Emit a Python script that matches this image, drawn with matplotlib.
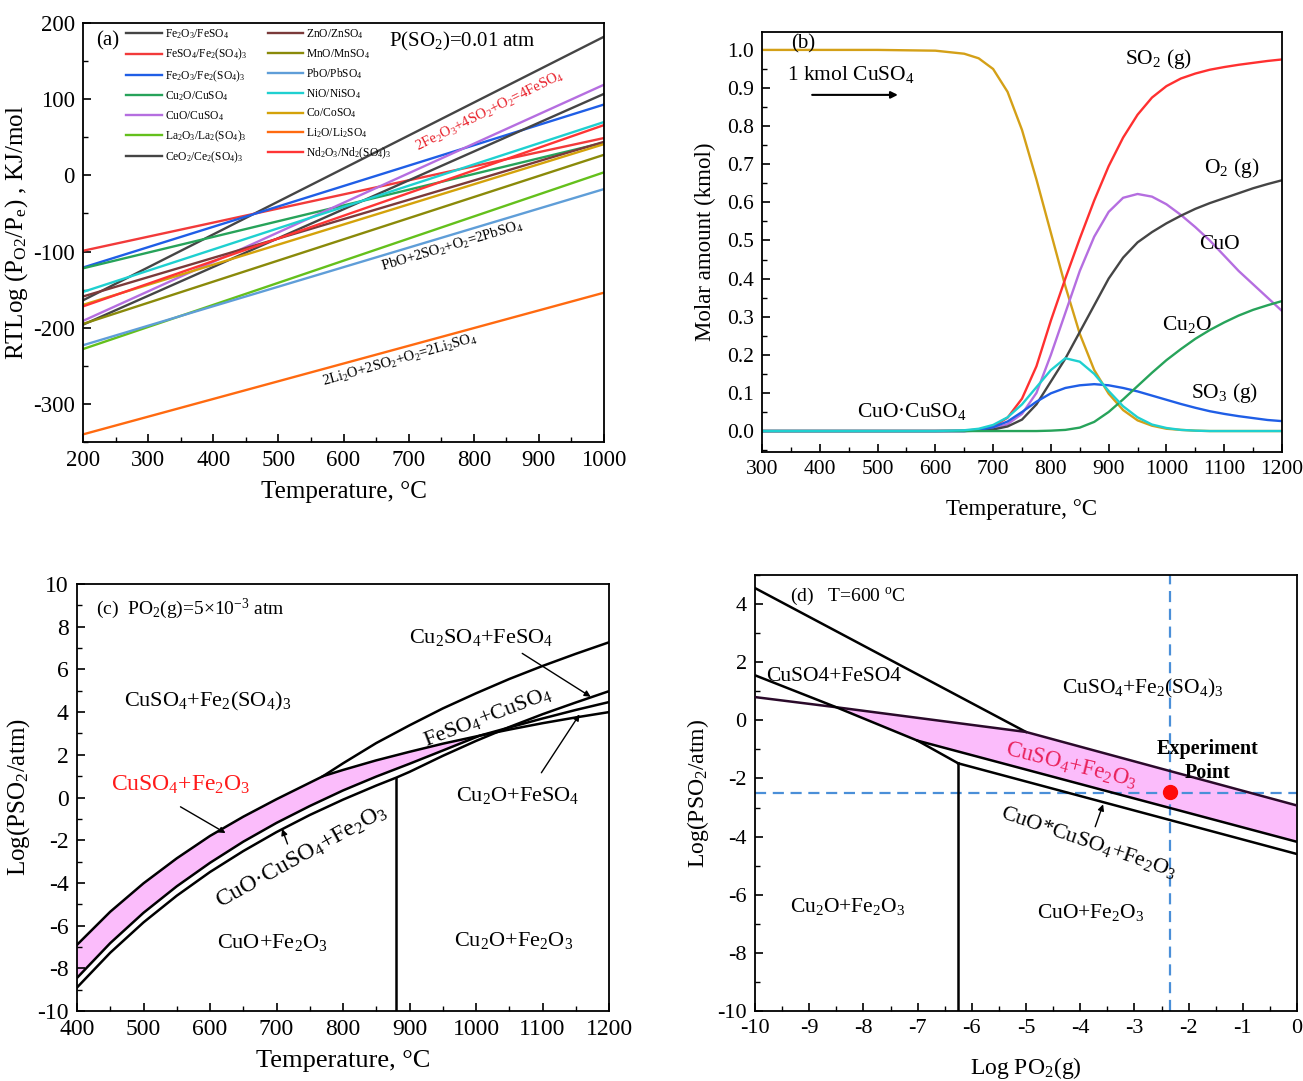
import numpy as np
import matplotlib
matplotlib.use("Agg")
import matplotlib.pyplot as plt
from matplotlib.ticker import MultipleLocator

plt.rcParams['font.family'] = ['Liberation Serif', 'DejaVu Serif']
plt.rcParams['mathtext.fontset'] = 'custom'
plt.rcParams['mathtext.rm'] = 'Liberation Serif'
plt.rcParams['mathtext.it'] = 'Liberation Serif:italic'
plt.rcParams['mathtext.bf'] = 'Liberation Serif:bold'
plt.rcParams['axes.unicode_minus'] = False

# ---------------- (a) data ----------------
a_T = [200, 1000]
a_labels = [r"Fe$_2$O$_3$/FeSO$_4$", r"FeSO$_4$/Fe$_2$(SO$_4$)$_3$", r"Fe$_2$O$_3$/Fe$_2$(SO$_4$)$_3$",
            r"Cu$_2$O/CuSO$_4$", r"CuO/CuSO$_4$", r"La$_2$O$_3$/La$_2$(SO$_4$)$_3$", r"CeO$_2$/Ce$_2$(SO$_4$)$_3$",
            r"ZnO/ZnSO$_4$", r"MnO/MnSO$_4$", r"PbO/PbSO$_4$", r"NiO/NiSO$_4$", r"Co/CoSO$_4$",
            r"Li$_2$O/Li$_2$SO$_4$", r"Nd$_2$O$_3$/Nd$_2$(SO$_4$)$_3$"]
a_start = [-164, -99, -121, -122, -191, -228, -196, -159, -195, -223, -153, -170, -340, -172]
a_end = [182, 49, 93, 43, 119, 4, 107, 44, 27, -18, 70, 41, -154, 66]
a_colors = ['#454545', '#f23a3a', '#1f5ee6', '#27a35a', '#b56ee0', '#64c01c', '#454545',
            '#7b3a3a', '#8a8a0a', '#5f9ed8', '#1fd0d0', '#d4a20a', '#ff6a10', '#ff3535']

# ---------------- (b) data ----------------
b_T = [300, 400, 500, 600, 650, 675, 700, 725, 750, 775, 800, 825, 850, 875, 900, 925, 950,
       975, 1000, 1025, 1050, 1075, 1100, 1125, 1150, 1175, 1200]
b_CuSO4 = [1.0, 1.0, 1.0, 0.998, 0.99, 0.978, 0.95, 0.89, 0.79, 0.66, 0.52, 0.38, 0.255, 0.16, 0.098,
           0.055, 0.028, 0.014, 0.006, 0.003, 0.001, 0, 0, 0, 0, 0, 0]
b_SO2 = [0, 0, 0, 0, 0.001, 0.004, 0.012, 0.035, 0.085, 0.17, 0.29, 0.40, 0.505, 0.605, 0.695, 0.77,
         0.83, 0.875, 0.905, 0.925, 0.938, 0.948, 0.955, 0.961, 0.966, 0.971, 0.975]
b_CuO = [0, 0, 0, 0, 0, 0.002, 0.006, 0.018, 0.045, 0.10, 0.20, 0.31, 0.42, 0.51, 0.575, 0.612, 0.622,
         0.615, 0.595, 0.567, 0.535, 0.50, 0.46, 0.42, 0.385, 0.35, 0.315]
b_O2 = [0, 0, 0, 0, 0, 0.001, 0.004, 0.012, 0.03, 0.07, 0.13, 0.19, 0.26, 0.33, 0.40, 0.455, 0.495,
        0.522, 0.545, 0.565, 0.583, 0.598, 0.611, 0.624, 0.637, 0.648, 0.658]
b_SO3 = [0, 0, 0, 0, 0, 0.003, 0.01, 0.025, 0.05, 0.077, 0.099, 0.113, 0.12, 0.123, 0.12, 0.113, 0.104,
         0.093, 0.082, 0.071, 0.061, 0.052, 0.045, 0.039, 0.034, 0.029, 0.026]
b_CuOCuSO4 = [0, 0, 0, 0, 0.002, 0.006, 0.016, 0.036, 0.07, 0.115, 0.16, 0.191, 0.182, 0.15, 0.105,
              0.065, 0.036, 0.017, 0.008, 0.003, 0.001, 0, 0, 0, 0, 0, 0]
b_Cu2O = [0, 0, 0, 0, 0, 0, 0, 0, 0, 0, 0.001, 0.003, 0.009, 0.024, 0.05, 0.083, 0.118, 0.153, 0.186,
          0.215, 0.242, 0.265, 0.285, 0.303, 0.318, 0.33, 0.341]

# ---------------- (c) data ----------------
cA_T = [400, 450, 500, 550, 600, 650, 700, 770, 800, 850, 900, 950, 1000, 1050, 1100, 1150, 1200]
cA_v = [-6.9, -5.35, -4.02, -2.85, -1.8, -0.9, -0.08, 1.0, 1.6, 2.55, 3.38, 4.17, 4.88, 5.55, 6.16, 6.73, 7.27]
cB_T = [770, 800, 850, 900, 950, 1006, 1050, 1100, 1150, 1200]
cB_v = [1.0, 1.29, 1.74, 2.14, 2.52, 2.9, 3.18, 3.48, 3.75, 4.0]
cC_T = [400, 450, 500, 550, 600, 650, 700, 750, 800, 850, 900, 950, 1006, 1050, 1100, 1150, 1200]
cC_v = [-8.45, -6.82, -5.4, -4.16, -3.06, -2.07, -1.19, -0.4, 0.33, 0.98, 1.58, 2.2, 2.9, 3.28, 3.7, 4.1, 4.47]
cE_T = [400, 450, 500, 550, 600, 650, 700, 750, 800, 850, 880, 900, 950, 1000, 1050, 1100, 1150, 1200]
cE_v = [-8.9, -7.27, -5.85, -4.6, -3.49, -2.51, -1.62, -0.82, -0.1, 0.56, 0.93, 1.2, 1.95, 2.65, 3.3, 3.9, 4.45, 4.98]
c_vert_T = 880

# ---------------- (d) data ----------------
dL1_x = [-10, -5]
dL1_y = [4.55, -0.4]
dTop_x = [-10, -8.5, -5, 0]
dTop_y = [0.8, 0.45, -0.4, -2.93]
dL2_x = [-10, -8.5, -7.0, -6.25]
dL2_y = [1.55, 0.45, -0.7, -1.48]
dBot_x = [-7.0, 0]
dBot_y = [-0.7, -4.18]
dL3_x = [-6.25, 0]
dL3_y = [-1.48, -4.6]
d_vert_x = -6.25
d_exp_x = -2.35
d_exp_y = -2.5

PINK = '#fbbcfb'

fig = plt.figure(figsize=(13.03, 10.81), dpi=100)
W, H = 1303, 1081


def box(l, t, r, b):
    return [l / W, 1 - b / H, (r - l) / W, (b - t) / H]


def style(ax, xmaj, xmin, ymaj, ymin, fs):
    ax.xaxis.set_major_locator(MultipleLocator(xmaj))
    ax.xaxis.set_minor_locator(MultipleLocator(xmin))
    ax.yaxis.set_major_locator(MultipleLocator(ymaj))
    ax.yaxis.set_minor_locator(MultipleLocator(ymin))
    ax.tick_params(which='both', direction='in', top=False, right=False, labelsize=fs)
    ax.tick_params(which='major', length=6, width=1.2, pad=6)
    ax.tick_params(which='minor', length=3.5, width=1.0)
    for s in ax.spines.values():
        s.set_linewidth(1.3)


# ================= (a) =================
axa = fig.add_axes(box(83, 23, 604, 442))
for lab, s, e, c in zip(a_labels, a_start, a_end, a_colors):
    axa.plot(a_T, [s, e], color=c, lw=1.7, label=lab)
axa.set_xlim(200, 1000)
axa.set_ylim(-350, 200)
style(axa, 100, 50, 100, 50, 16.5)
axa.set_xlabel("Temperature, °C", fontsize=18, labelpad=7)
axa.set_ylabel(r"RTLog (P$_{\rm O2}$/P$_{\rm e}$) , KJ/mol", fontsize=18, labelpad=2)
leg = axa.legend(ncol=2, loc='upper left', bbox_to_anchor=(0.078, 0.995), frameon=False,
                 fontsize=8.3, handlelength=3.1, handletextpad=0.25, labelspacing=0.5,
                 columnspacing=1.8, borderpad=0.2, borderaxespad=0)
axa.text(238, 176, "(a)", fontsize=15, ha='center', va='center')
axa.text(782, 176, r"P(SO$_2$)=0.01 atm", fontsize=15, ha='center', va='center')
axa.text(825, 84, r"2Fe$_2$O$_3$+4SO$_2$+O$_2$=4FeSO$_4$", fontsize=10.5, color='#e8202a',
         rotation=26.5, ha='center', va='center', rotation_mode='anchor')
axa.text(767, -93, r"PbO+2SO$_2$+O$_2$=2PbSO$_4$", fontsize=10.5, color='black',
         rotation=16.5, ha='center', va='center', rotation_mode='anchor')
axa.text(687, -243, r"2Li$_2$O+2SO$_2$+O$_2$=2Li$_2$SO$_4$", fontsize=10.5, color='black',
         rotation=16, ha='center', va='center', rotation_mode='anchor')

# ================= (b) =================
axb = fig.add_axes(box(762, 32, 1282, 452))
axb.plot(b_T, b_CuSO4, color='#d4a017', lw=1.7)
axb.plot(b_T, b_SO2, color='#ff3030', lw=1.7)
axb.plot(b_T, b_CuO, color='#b56ee0', lw=1.7)
axb.plot(b_T, b_O2, color='#454545', lw=1.7)
axb.plot(b_T, b_SO3, color='#1f5ee6', lw=1.7)
axb.plot(b_T, b_Cu2O, color='#27a35a', lw=1.7)
axb.plot(b_T, b_CuOCuSO4, color='#1fd0d0', lw=1.7)
axb.set_xlim(300, 1200)
axb.set_ylim(-0.055, 1.047)
style(axb, 100, 50, 0.1, 0.05, 15.5)
axb.yaxis.set_major_formatter(matplotlib.ticker.FormatStrFormatter('%.1f'))
axb.set_xlabel("Temperature, °C", fontsize=16.5, labelpad=14)
axb.set_ylabel("Molar amount (kmol)", fontsize=16.5, labelpad=8)
axb.text(372, 1.015, "(b)", fontsize=15, ha='center', va='center')
axb.text(343, 0.935, r"1 kmol CuSO$_4$", fontsize=15.5, ha='left', va='center')
axb.annotate('', xy=(540, 0.882), xytext=(382, 0.882),
             arrowprops=dict(arrowstyle='-|>', color='black', lw=1.5, mutation_scale=10))
axb.text(987, 0.975, r"SO$_2$ (g)", fontsize=15.5, ha='center', va='center')
axb.text(1112, 0.69, r"O$_2$ (g)", fontsize=15.5, ha='center', va='center')
axb.text(1092, 0.49, "CuO", fontsize=15.5, ha='center', va='center')
axb.text(1035, 0.28, r"Cu$_2$O", fontsize=15.5, ha='center', va='center')
axb.text(1101, 0.10, r"SO$_3$ (g)", fontsize=15.5, ha='center', va='center')
axb.text(560, 0.052, r"CuO·CuSO$_4$", fontsize=15.5, ha='center', va='center')

# ================= (c) =================
axc = fig.add_axes(box(77, 584, 609, 1011))
upper_T = cA_T[:8] + cB_T[1:6]
upper_v = cA_v[:8] + cB_v[1:6]
lower_T = cC_T[:13]
lower_v = cC_v[:13]
axc.fill(upper_T + lower_T[::-1], upper_v + lower_v[::-1], color=PINK, lw=0, zorder=1)
for xs, ys in [(cA_T, cA_v), (cB_T, cB_v), (cC_T, cC_v), (cE_T, cE_v)]:
    axc.plot(xs, ys, color='black', lw=1.8, zorder=3)
axc.plot([c_vert_T, c_vert_T], [-10, cE_v[cE_T.index(c_vert_T)]], color='black', lw=1.8, zorder=3)
axc.set_xlim(400, 1200)
axc.set_ylim(-10, 10)
style(axc, 100, 50, 2, 1, 17)
axc.set_xlabel("Temperature, °C", fontsize=19, labelpad=7)
axc.set_ylabel(r"Log(PSO$_2$/atm)", fontsize=18, labelpad=4)
fs_c = 16
axc.text(428, 8.83, r"(c)  PO$_2$(g)=5×10$^{-3}$ atm", fontsize=14, ha='left', va='center')
axc.text(597, 4.5, r"CuSO$_4$+Fe$_2$(SO$_4$)$_3$", fontsize=fs_c, ha='center', va='center')
axc.text(1008, 7.5, r"Cu$_2$SO$_4$+FeSO$_4$", fontsize=fs_c, ha='center', va='center')
axc.text(1017, 3.8, r"FeSO$_4$+CuSO$_4$", fontsize=fs_c, ha='center', va='center',
         rotation=21, rotation_mode='anchor')
axc.text(556, 0.6, r"CuSO$_4$+Fe$_2$O$_3$", fontsize=fs_c + 1, color='#ff1a1a', ha='center', va='center')
axc.text(1062, 0.1, r"Cu$_2$O+FeSO$_4$", fontsize=fs_c, ha='center', va='center')
axc.text(737, -2.75, r"CuO·CuSO$_4$+Fe$_2$O$_3$", fontsize=fs_c + 1, ha='center', va='center',
         rotation=29, rotation_mode='anchor')
axc.text(693, -6.8, r"CuO+Fe$_2$O$_3$", fontsize=fs_c, ha='center', va='center')
axc.text(1056, -6.7, r"Cu$_2$O+Fe$_2$O$_3$", fontsize=fs_c, ha='center', va='center')
ap = dict(arrowstyle='-|>', color='black', lw=1.0, mutation_scale=9)
axc.annotate('', xy=(1176, 4.65), xytext=(1066, 6.82), arrowprops=ap)
axc.annotate('', xy=(1158, 4.0), xytext=(1096, 1.05), arrowprops=ap)
axc.annotate('', xy=(627, -1.73), xytext=(552, -0.37), arrowprops=ap)
axc.annotate('', xy=(707, -1.35), xytext=(718, -2.3), arrowprops=ap)

# ================= (d) =================
axd = fig.add_axes(box(755, 575, 1297, 1011))
poly_x = dTop_x[1:] + dBot_x[::-1] + [dL2_x[1]]
poly_y = dTop_y[1:] + dBot_y[::-1] + [dL2_y[1]]
axd.fill(poly_x, poly_y, color=PINK, lw=0, zorder=1)
axd.plot(dL1_x, dL1_y, color='black', lw=1.8, zorder=3)
axd.plot(dTop_x, dTop_y, color='#2a0a2a', lw=1.8, zorder=3)
axd.plot(dL2_x, dL2_y, color='black', lw=1.8, zorder=3)
axd.plot(dBot_x, dBot_y, color='black', lw=1.8, zorder=3)
axd.plot(dL3_x, dL3_y, color='black', lw=1.8, zorder=3)
axd.plot([d_vert_x, d_vert_x], [-10, dL3_y[0]], color='black', lw=1.8, zorder=3)
axd.axhline(d_exp_y, color='#4a8fd8', lw=1.6, ls=(0, (5, 3)), zorder=2)
axd.axvline(d_exp_x, color='#4a8fd8', lw=1.6, ls=(0, (5, 3)), zorder=2)
axd.plot([d_exp_x], [d_exp_y + 0.05], 'o', color='#ff0a0a', ms=10, zorder=5)
axd.set_xlim(-10, 0)
axd.set_ylim(-10, 5)
style(axd, 1, 0.5, 2, 1, 16)
axd.set_xlabel(r"Log PO$_2$(g)", fontsize=17, labelpad=12)
axd.set_ylabel(r"Log(PSO$_2$/atm)", fontsize=17, labelpad=4)
fs_d = 15.5
axd.text(-9.35, 4.27, r"(d)   T=600 $^{\rm o}$C", fontsize=14, ha='left', va='center')
axd.text(-9.8, 1.5, "CuSO4+FeSO4", fontsize=fs_d, ha='left', va='center')
axd.text(-2.85, 1.1, r"CuSO$_4$+Fe$_2$(SO$_4$)$_3$", fontsize=fs_d, ha='center', va='center')
axd.text(-4.16, -1.55, r"CuSO$_4$+Fe$_2$O$_3$", fontsize=fs_d + 1, color='#e8205a', ha='center',
         va='center', rotation=-14, rotation_mode='anchor')
axd.text(-1.64, -1.0, "Experiment", fontsize=14.5, fontweight='bold', ha='center', va='center')
axd.text(-1.64, -1.82, "Point", fontsize=14.5, fontweight='bold', ha='center', va='center')
axd.text(-3.85, -4.2, r"CuO*CuSO$_4$+Fe$_2$O$_3$", fontsize=fs_d + 0.5, ha='center', va='center',
         rotation=-19, rotation_mode='anchor')
axd.annotate('', xy=(-3.56, -2.8), xytext=(-3.74, -3.75), arrowprops=ap)
axd.text(-8.29, -6.4, r"Cu$_2$O+Fe$_2$O$_3$", fontsize=fs_d, ha='center', va='center')
axd.text(-3.81, -6.62, r"CuO+Fe$_2$O$_3$", fontsize=fs_d, ha='center', va='center')

fig.savefig("out.png", dpi=100)
